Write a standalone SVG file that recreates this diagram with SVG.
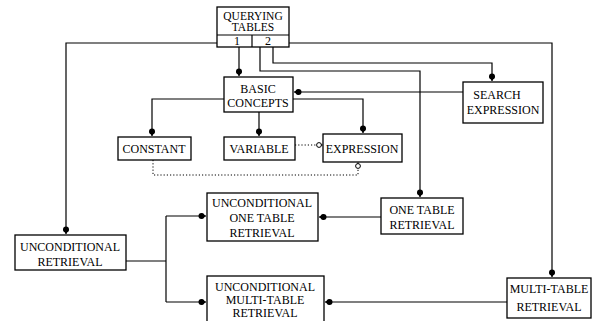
<svg xmlns="http://www.w3.org/2000/svg" width="595" height="321" viewBox="0 0 595 321">
<style>
.box{fill:#fff;stroke:#000;stroke-width:1.3}
.t{font-family:"Liberation Serif","Times New Roman",serif;font-size:12px;fill:#000;text-anchor:middle}
.c{fill:none;stroke:#000;stroke-width:1.2}
.d{fill:none;stroke:#000;stroke-width:1;stroke-dasharray:1.2 2}
</style>
<defs>
<marker id="ah" markerUnits="userSpaceOnUse" viewBox="-9 -5 10 10" refX="0" refY="0" markerWidth="10" markerHeight="10" orient="auto">
<circle cx="-4.5" cy="0" r="3" fill="#000"/>
<path d="M-4.5,-3 L0,0 L-4.5,3 Z" fill="#000"/>
</marker>
<marker id="oc" markerUnits="userSpaceOnUse" viewBox="-8 -5 9 10" refX="0" refY="0" markerWidth="9" markerHeight="10" orient="auto">
<circle cx="-3" cy="0" r="2.4" fill="#fff" stroke="#000" stroke-width="1"/>
<path d="M-0.6,0 L0.6,0" stroke="#000" stroke-width="1"/>
</marker>
</defs>
<g id="connectors">
<path class="c" d="M217,43 H66 V234" marker-end="url(#ah)"/>
<path class="c" d="M239,47 V76" marker-end="url(#ah)"/>
<path class="c" d="M260,47 V71 H420 V197" marker-end="url(#ah)"/>
<path class="c" d="M273,47 V63 H492 V81" marker-end="url(#ah)"/>
<path class="c" d="M289,43 H552 V277" marker-end="url(#ah)"/>
<path class="c" d="M463,92 H294" marker-end="url(#ah)"/>
<path class="c" d="M293,99 H363 V133" marker-end="url(#ah)"/>
<path class="c" d="M259,112 V136" marker-end="url(#ah)"/>
<path class="c" d="M224,99 H152 V136" marker-end="url(#ah)"/>
<path class="d" d="M295,145 H322" marker-end="url(#oc)"/>
<path class="d" d="M153,160 V175 H358 V163" marker-end="url(#oc)"/>
<path class="c" d="M381,217 H319" marker-end="url(#ah)"/>
<path class="c" d="M126,261 H166"/>
<path class="c" d="M166,216 V302"/>
<path class="c" d="M166,216 H206" marker-end="url(#ah)"/>
<path class="c" d="M166,302 H206" marker-end="url(#ah)"/>
<path class="c" d="M507,302 H325" marker-end="url(#ah)"/>
</g>
<g id="querying-tables">
<rect class="box" x="217" y="7" width="72" height="40"/>
<path class="c" d="M217,35 H289 M252,35 V47"/>
<text class="t" x="253" y="20" style="font-size:11.5px">QUERYING</text>
<text class="t" x="253" y="31" style="font-size:11.5px">TABLES</text>
<text class="t" x="237" y="45">1</text>
<text class="t" x="268" y="45">2</text>
</g>
<g id="basic-concepts">
<rect class="box" x="224" y="77" width="69" height="35"/>
<text class="t" x="258" y="93">BASIC</text>
<text class="t" x="258" y="107">CONCEPTS</text>
</g>
<g id="search-expression">
<rect class="box" x="463" y="82" width="80" height="41"/>
<text class="t" x="497" y="99">SEARCH</text>
<text class="t" x="503" y="114">EXPRESSION</text>
</g>
<g id="constant">
<rect class="box" x="118" y="137" width="73" height="23"/>
<text class="t" x="154" y="153">CONSTANT</text>
</g>
<g id="variable">
<rect class="box" x="224" y="137" width="71" height="23"/>
<text class="t" x="259" y="153">VARIABLE</text>
</g>
<g id="expression">
<rect class="box" x="323" y="134" width="79" height="28"/>
<text class="t" x="362" y="153">EXPRESSION</text>
</g>
<g id="one-table-retrieval">
<rect class="box" x="381" y="198" width="82" height="36"/>
<text class="t" x="422" y="214">ONE TABLE</text>
<text class="t" x="422" y="229">RETRIEVAL</text>
</g>
<g id="unconditional-one-table-retrieval">
<rect class="box" x="207" y="193" width="111" height="48"/>
<text class="t" x="262" y="207">UNCONDITIONAL</text>
<text class="t" x="262" y="222">ONE TABLE</text>
<text class="t" x="262" y="237">RETRIEVAL</text>
</g>
<g id="unconditional-retrieval">
<rect class="box" x="15" y="235" width="111" height="35"/>
<text class="t" x="70" y="251">UNCONDITIONAL</text>
<text class="t" x="70" y="266">RETRIEVAL</text>
</g>
<g id="unconditional-multi-table-retrieval">
<rect class="box" x="207" y="276" width="117" height="52"/>
<text class="t" x="265" y="291">UNCONDITIONAL</text>
<text class="t" x="265" y="304">MULTI-TABLE</text>
<text class="t" x="265" y="317">RETRIEVAL</text>
</g>
<g id="multi-table-retrieval">
<rect class="box" x="507" y="278" width="84" height="40"/>
<text class="t" x="549" y="293">MULTI-TABLE</text>
<text class="t" x="549" y="311">RETRIEVAL</text>
</g>
</svg>
